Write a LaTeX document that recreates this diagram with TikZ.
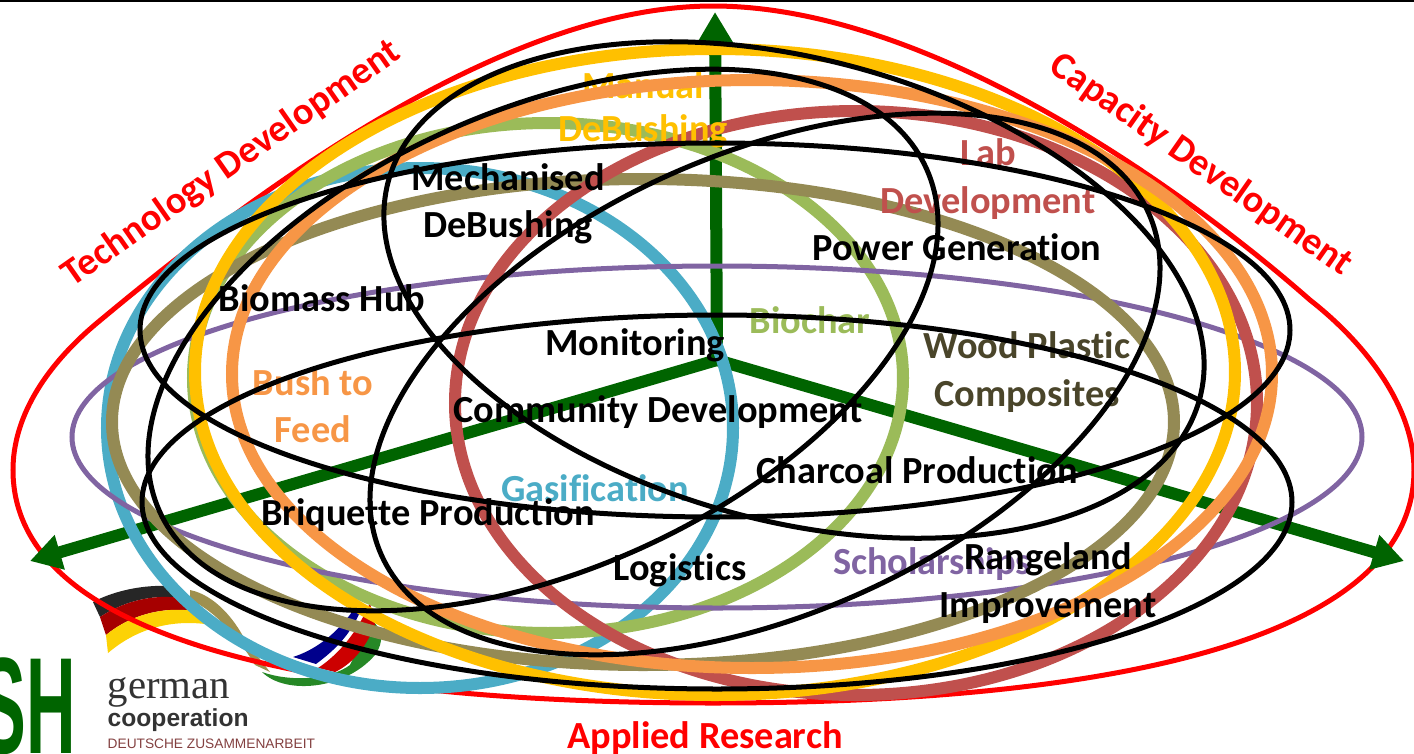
\documentclass[tikz,border=0pt]{standalone}
\usepackage{fontspec}
\setmainfont[Ligatures=NoCommon]{Carlito}
\newfontfamily\logoserif{Liberation Serif}
\newfontfamily\logosans{Liberation Sans}
\usetikzlibrary{positioning,arrows.meta}

\definecolor{axisgreen}{HTML}{006400}
\definecolor{ringteal}{HTML}{4BACC6}
\definecolor{ringgreen}{HTML}{9BBB59}
\definecolor{ringpurple}{HTML}{8064A2}
\definecolor{ringolive}{HTML}{948A54}
\definecolor{ringbrown}{HTML}{C0504D}
\definecolor{ringyellow}{HTML}{FFC000}
\definecolor{ringorange}{HTML}{F79646}
\definecolor{darkolive}{HTML}{4A452A}

\tikzset{
  ring/.style={line width=0.12cm},
  thinring/.style={line width=0.05cm},
  axis/.style={axisgreen,line width=0.12cm,-{Triangle[length=0.31cm,width=0.34cm]}},
  lbl/.style={inner sep=0pt,align=center,font=\fontsize{10.9}{13.4}\selectfont\bfseries},
  redlbl/.style={lbl,red}
}

\begin{document}
\begin{tikzpicture}[x=0.01cm,y=-0.01cm]
  \useasboundingbox (0,0) rectangle (1414,754);

  % Define points
  \coordinate (hub)   at (717,360);
  \coordinate (north) at (715,12);
  \coordinate (west)  at (30,561);
  \coordinate (east)  at (1404,561);

  \draw[line width=0.025cm] (0,1) -- (1414,1);

  % Logo
  \fill[black!85] (93,602) .. controls (115,590) and (150,583) .. (177,587) -- (190,600) .. controls (160,592) and (125,600) .. (100,617) -- cycle;
  \fill[red!65!black] (100,617) .. controls (125,600) and (160,592) .. (190,600) -- (200,612) .. controls (165,605) and (130,615) .. (106,635) -- cycle;
  \fill[yellow!70!orange] (106,635) .. controls (130,615) and (165,605) .. (200,612) -- (212,625) .. controls (170,618) and (135,630) .. (108,653) -- cycle;
  \fill[black!50!yellow!70!brown] (190,590) .. controls (215,595) and (235,620) .. (245,640) -- (270,672) -- (255,665) .. controls (240,640) and (215,610) .. (190,600) -- cycle;
  \fill[green!45!black!85] (262,672) .. controls (285,695) and (345,690) .. (375,655) .. controls (385,640) and (382,630) .. (372,620) -- (350,665) .. controls (330,680) and (290,682) .. (262,672) -- cycle;
  \fill[red!80!black] (318,668) .. controls (345,650) and (360,625) .. (370,603) -- (375,625) .. controls (365,650) and (350,665) .. (335,672) -- cycle;
  \fill[blue!55!black] (293,657) .. controls (315,650) and (335,635) .. (352,612) -- (360,612) .. controls (350,635) and (335,650) .. (316,664) -- cycle;

  \node[inner sep=0pt,anchor=base west,font=\logoserif\fontsize{11.6}{13}\selectfont,text=black!80] (german) at (107,698) {german};
  \node[inner sep=0pt,anchor=base west,font=\logosans\bfseries\fontsize{7}{8}\selectfont,text=black!80] (cooperation) at (107,726) {cooperation};
  \node[inner sep=0pt,anchor=base west,font=\logosans\fontsize{3.9}{5}\selectfont,text=red!35!black!75] (deutsche) at (107,748) {DEUTSCHE ZUSAMMENARBEIT};
  \node[inner sep=0pt,anchor=north east,xscale=0.5,text=axisgreen,font=\logosans\bfseries\fontsize{39}{40}\selectfont] (sh) at (76,657) {SH};

  % Outer curve
  \draw[red,thinring] (713,6) .. controls (500,6) and (248,197) .. (97,323)
    .. controls (42,369) and (13,420) .. (13,470)
    .. controls (13,650) and (350,703) .. (713,703)
    .. controls (1076,703) and (1414,650) .. (1414,470)
    .. controls (1414,410) and (1370,347) .. (1310,300)
    .. controls (1185,190) and (930,6) .. (713,6) -- cycle;

  % Axes
  \draw[axis] (hub) -- (north);
  \draw[axis] (hub) -- (west);
  \draw[axis] (hub) -- (east);

  % Coloured rings
  \draw[ringteal,ring]   (420,428) ellipse [x radius=313, y radius=260];
  \draw[ringgreen,ring]  (548,378) ellipse [x radius=355, y radius=255];
  \draw[ringpurple,thinring] (717,437) ellipse [x radius=645, y radius=171];
  \draw[ringolive,ring]  (643,422) ellipse [x radius=531, y radius=243];
  \draw[ringbrown,ring]  (856,403) ellipse [x radius=401, y radius=292];
  \draw[ringyellow,ring] (715,372) ellipse [x radius=520, y radius=323];
  \node[lbl,text=ringyellow] (manual) at (643,85) {Manual};
  \draw[ringorange,ring] (752,374) ellipse [x radius=520, y radius=294];

  % Coloured labels
  \node[lbl,text=ringyellow,below=0.15cm of manual] (debushingA) {DeBushing};
  \node[lbl,text=ringbrown] (lab) at (988,179) {Lab\\Development};
  \node[lbl,text=ringgreen] (biochar) at (810,320) {Biochar};
  \node[lbl,text=darkolive] (wood) at (1027,372) {Wood Plastic\\Composites};
  \node[lbl,text=ringorange] (feed) at (313,406) {Bush to\\Feed};
  \node[lbl,text=ringteal] (gasification) at (595,488) {Gasification};
  \node[lbl,text=ringpurple] (scholarships) at (932,564) {Scholarships};

  % Black rings
  \draw[thinring] (715,330) ellipse [x radius=575, y radius=187];
  \draw[thinring] (717,502) ellipse [x radius=575, y radius=187];
  \draw[thinring,rotate around={24:(543,340)}] (543,340) ellipse [x radius=420, y radius=230];
  \draw[thinring,rotate around={24:(765,384)}] (765,384) ellipse [x radius=420, y radius=230];
  \draw[thinring,rotate around={-15:(794,290)}] (794,290) ellipse [x radius=420, y radius=231];

  % Black labels
  \node[lbl] (mechanised) at (508,204) {Mechanised\\DeBushing};
  \node[lbl] (power) at (957,247) {Power Generation};
  \node[lbl] (biomass) at (322,298) {Biomass Hub};
  \node[lbl] (monitoring) at (635,345) {Monitoring};
  \node[lbl] (community) at (658,412) {Community Development};
  \node[lbl] (charcoal) at (917,470) {Charcoal Production};
  \node[lbl] (briquette) at (428,515) {Briquette Production};
  \node[lbl] (logistics) at (680,570) {Logistics};
  \node[lbl] (rangeland) at (1048,583) {Rangeland\\Improvement};

  % Red labels
  \node[redlbl,rotate=35] (technology) at (232,164) {Technology Development};
  \node[redlbl,rotate=-35] (capacity) at (1201,165) {Capacity Development};
  \node[redlbl] (applied) at (705,738) {Applied Research};

\end{tikzpicture}
\end{document}
